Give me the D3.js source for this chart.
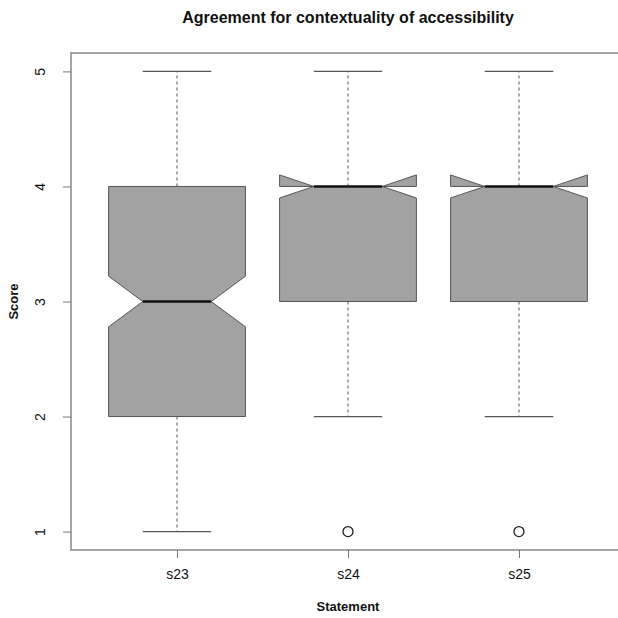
<!DOCTYPE html>
<html>
<head>
<meta charset="utf-8">
<script src="https://cdn.jsdelivr.net/npm/d3@7"></script>
<style>
  body { margin: 0; background: #fff; }
  text { font-family: "Liberation Sans", Arial, sans-serif; fill: #111; }
</style>
</head>
<body>
<script>
// boxplot stats per statement
const categories = ['s23', 's24', 's25'];
const lowerWhisker = [1, 2, 2];
const q1 = [2, 3, 3];
const median = [3, 4, 4];
const q3 = [4, 4, 4];
const upperWhisker = [5, 5, 5];
const notchHalf = [0.22, 0.1, 0.1];
const outliers = [[], [1], [1]];
const scoreTicks = [1, 2, 3, 4, 5];

const width = 618, height = 618;
const plot = {left: 71, right: 625, top: 53, bottom: 550};

const svg = d3.select('body').append('svg')
  .attr('width', width)
  .attr('height', height);

// R style: 0.5..n+0.5 padded by 4%
const x = d3.scaleLinear()
  .domain([0.38, 3.62])
  .range([plot.left, plot.right]);
const y = d3.scaleLinear()
  .domain([0.84, 5.16])
  .range([plot.bottom, plot.top]);

const boxHalf = 0.4;
const capHalf = 0.2;

const boxes = svg.append('g').selectAll('g')
  .data(categories.map((c, i) => ({c, i, pos: i + 1})))
  .join('g');

// whiskers (dashed)
boxes.append('line')
  .attr('x1', d => x(d.pos)).attr('x2', d => x(d.pos))
  .attr('y1', d => y(q3[d.i])).attr('y2', d => y(upperWhisker[d.i]))
  .attr('stroke', '#555').attr('stroke-dasharray', '3,3');
boxes.append('line')
  .attr('x1', d => x(d.pos)).attr('x2', d => x(d.pos))
  .attr('y1', d => y(q1[d.i])).attr('y2', d => y(lowerWhisker[d.i]))
  .attr('stroke', '#555').attr('stroke-dasharray', '3,3');

// staples
[upperWhisker, lowerWhisker].forEach(arr => {
  boxes.append('line')
    .attr('x1', d => x(d.pos - capHalf)).attr('x2', d => x(d.pos + capHalf))
    .attr('y1', d => y(arr[d.i])).attr('y2', d => y(arr[d.i]))
    .attr('stroke', '#555').attr('stroke-width', 1.2);
});

// notched box, same polygon R draws
boxes.append('path')
  .attr('d', d => {
    const i = d.i, p = d.pos;
    const lo = median[i] - notchHalf[i], hi = median[i] + notchHalf[i];
    const pts = [
      [p - boxHalf, q1[i]], [p - boxHalf, lo], [p - boxHalf / 2, median[i]],
      [p - boxHalf, hi], [p - boxHalf, q3[i]], [p + boxHalf, q3[i]],
      [p + boxHalf, hi], [p + boxHalf / 2, median[i]], [p + boxHalf, lo],
      [p + boxHalf, q1[i]]
    ];
    return d3.line().x(v => x(v[0])).y(v => y(v[1]))(pts) + 'Z';
  })
  .attr('fill', '#a2a2a2')
  .attr('stroke', '#555')
  .attr('stroke-width', 1);

// median
boxes.append('line')
  .attr('x1', d => x(d.pos - boxHalf / 2)).attr('x2', d => x(d.pos + boxHalf / 2))
  .attr('y1', d => y(median[d.i])).attr('y2', d => y(median[d.i]))
  .attr('stroke', '#111').attr('stroke-width', 2.5);

// outliers
boxes.selectAll('circle')
  .data(d => outliers[d.i].map(v => ({v, pos: d.pos})))
  .join('circle')
  .attr('cx', d => x(d.pos)).attr('cy', d => y(d.v))
  .attr('r', 5)
  .attr('fill', 'none').attr('stroke', '#222').attr('stroke-width', 1.3);

// frame
svg.append('rect')
  .attr('x', plot.left).attr('y', plot.top)
  .attr('width', plot.right - plot.left).attr('height', plot.bottom - plot.top)
  .attr('fill', 'none').attr('stroke', '#888').attr('stroke-width', 1.5);

// y axis
const yAxis = svg.append('g')
  .attr('transform', `translate(${plot.left},0)`)
  .call(d3.axisLeft(y).tickValues(scoreTicks).tickFormat(d3.format('d'))
    .tickSize(8).tickSizeOuter(0).tickPadding(0));
yAxis.select('.domain').remove();
yAxis.selectAll('.tick line').attr('stroke', '#777');
yAxis.selectAll('.tick text')
  .attr('x', 0).attr('dy', 0)
  .attr('transform', 'translate(-26,0) rotate(-90)')
  .attr('text-anchor', 'middle')
  .attr('font-size', 14);

// x axis
const xAxis = svg.append('g')
  .attr('transform', `translate(0,${plot.bottom})`)
  .call(d3.axisBottom(x).tickValues([1, 2, 3]).tickFormat(v => categories[v - 1])
    .tickSize(8).tickSizeOuter(0).tickPadding(11));
xAxis.select('.domain').remove();
xAxis.selectAll('.tick line').attr('stroke', '#777');
xAxis.selectAll('.tick text').attr('font-size', 14);

// titles
const cx = (plot.left + plot.right) / 2;
svg.append('text')
  .attr('x', cx).attr('y', 23)
  .attr('text-anchor', 'middle')
  .attr('font-size', 16).attr('font-weight', 'bold')
  .text('Agreement for contextuality of accessibility');
svg.append('text')
  .attr('x', cx).attr('y', 611)
  .attr('text-anchor', 'middle')
  .attr('font-size', 13).attr('font-weight', 'bold')
  .text('Statement');
svg.append('text')
  .attr('transform', `translate(18,${(plot.top + plot.bottom) / 2}) rotate(-90)`)
  .attr('text-anchor', 'middle')
  .attr('font-size', 13).attr('font-weight', 'bold')
  .text('Score');
</script>
</body>
</html>
